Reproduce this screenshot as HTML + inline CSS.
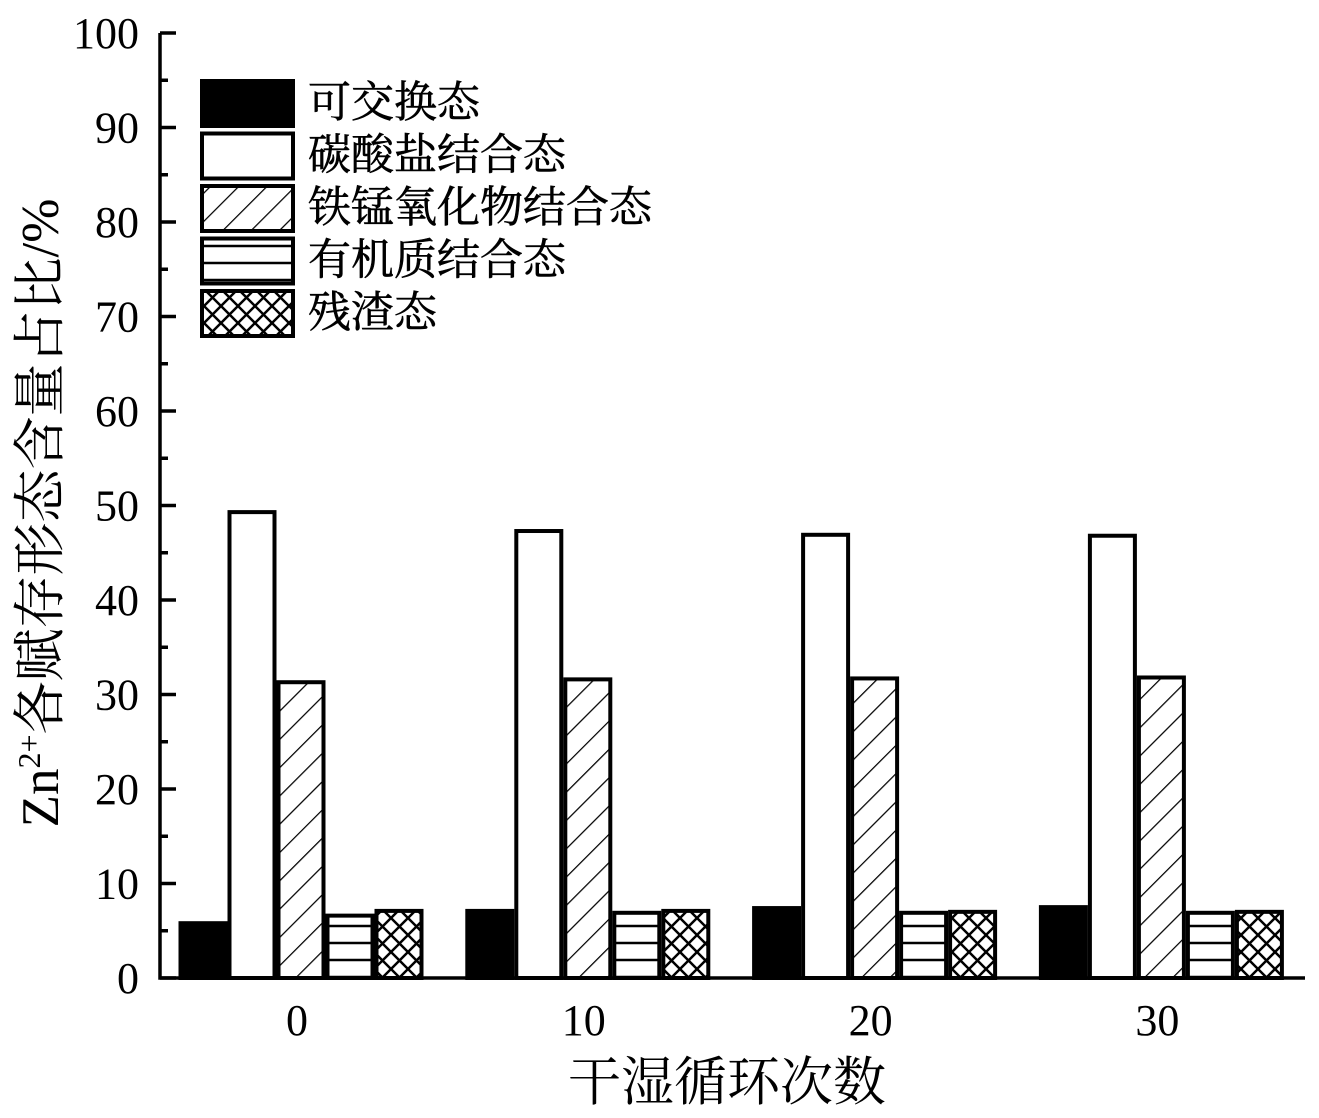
<!DOCTYPE html>
<html><head><meta charset="utf-8"><style>
html,body{margin:0;padding:0;background:#fff}
svg text{font-family:"Liberation Serif","Noto Serif CJK SC",serif;fill:#000}
</style></head><body>
<svg width="1319" height="1113" viewBox="0 0 1319 1113">
<defs>
<pattern id="diag" patternUnits="userSpaceOnUse" width="20" height="20" patternTransform="rotate(45)"><line x1="0" y1="0" x2="0" y2="20" stroke="#000" stroke-width="2.5"/></pattern>
<pattern id="horiz" patternUnits="userSpaceOnUse" width="20" height="17"><line x1="0" y1="8" x2="20" y2="8" stroke="#000" stroke-width="2.5"/></pattern>
<pattern id="cross" patternUnits="userSpaceOnUse" width="17" height="17"><path d="M0 0L17 17M17 0L0 17" stroke="#000" stroke-width="2.5"/></pattern>
</defs>
<g id="bars"></g>
<g id="axes"></g>
<g id="legend"></g>
</svg>
<script>
const categories=["0","10","20","30"];
const seriesNames=["可交换态","碳酸盐结合态","铁锰氧化物结合态","有机质结合态","残渣态"];
const exchangeable=[5.8,7.1,7.4,7.5];
const carbonate=[49.3,47.3,46.9,46.8];
const femnOxide=[31.3,31.6,31.7,31.8];
const organic=[6.6,6.9,6.9,6.9];
const residual=[7.1,7.1,7.0,7.0];
const yTicks=[0,10,20,30,40,50,60,70,80,90,100];
const fills=["#000","#fff","url(#diag)","url(#horiz)","url(#cross)"];
const series=[exchangeable,carbonate,femnOxide,organic,residual];
const NS="http://www.w3.org/2000/svg";
function y(v){return 978-v*9.45;}
function xc(i){return 301+i*286.8;}
function mk(tag,attrs,parent){const e=document.createElementNS(NS,tag);for(const k in attrs)e.setAttribute(k,attrs[k]);parent.appendChild(e);return e;}
const bars=document.getElementById('bars'),axes=document.getElementById('axes'),leg=document.getElementById('legend');
const bw=49;
categories.forEach((c,i)=>{series.forEach((s,j)=>{
 const x0=xc(i)-2.5*bw+j*bw;
 const r=mk('rect',{x:x0+2,y:y(s[i]),width:bw-4,height:978-y(s[i]),fill:fills[j],stroke:'#000','stroke-width':4},bars);
 
 
});
 const t=mk('text',{x:xc(i)-4,y:1035,'font-size':44,'text-anchor':'middle'},axes);t.textContent=c;
 
 
});
const ax=mk('path',{d:'M160 33V978H1305',fill:'none',stroke:'#000','stroke-width':3.5},axes);


yTicks.forEach(v=>{
 mk('line',{x1:160,x2:176,y1:y(v),y2:y(v),stroke:'#000','stroke-width':3.5},axes);
 if(v<100)mk('line',{x1:160,x2:168,y1:y(v+5),y2:y(v+5),stroke:'#000','stroke-width':3.5},axes);
 const t=mk('text',{x:139,y:y(v)+15,'font-size':44,'text-anchor':'end'},axes);t.textContent=v;
 
 
});
const xt=mk('text',{x:727,y:1100,'font-size':53,'text-anchor':'middle'},axes);xt.textContent='干湿循环次数';


const yt=mk('text',{x:0,y:0,'font-size':53,'text-anchor':'middle',transform:'translate(58,513) rotate(-90)'},axes);
yt.innerHTML='Zn<tspan font-size="32" dy="-18">2+</tspan><tspan dy="18">各赋存形态含量占比/%</tspan>';


seriesNames.forEach((n,j)=>{
 const yy=79+j*52.5;
 const r=mk('rect',{x:202,y:yy+2,width:91,height:45,fill:fills[j],stroke:'#000','stroke-width':4},leg);
 
 
 const t=mk('text',{x:308,y:yy+38,'font-size':43,'stroke':'#000','stroke-width':0.6},leg);t.textContent=n;
 
 
});
</script>
</body></html>
